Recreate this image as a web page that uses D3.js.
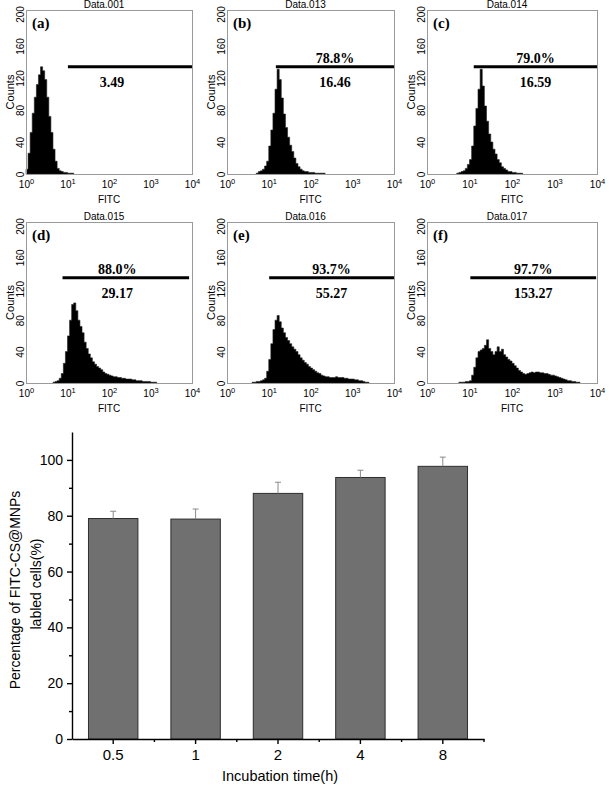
<!DOCTYPE html>
<html>
<head>
<meta charset="utf-8">
<script src="https://cdn.jsdelivr.net/npm/d3@7"></script>
<style>
  body { margin: 0; background: #fff; }
  svg { display: block; }
  .sans { font-family: "Liberation Sans", Arial, sans-serif; }
  .serif { font-family: "Liberation Serif", "Times New Roman", serif; }
</style>
</head>
<body>
<div id="chart"></div>
<script>
// Flow cytometry histograms (a)-(f)
//================================
var panelTags = ["(a)", "(b)", "(c)", "(d)", "(e)", "(f)"];
var sampleNames = ["Data.001", "Data.013", "Data.014", "Data.015", "Data.016", "Data.017"];
var gatePercent = ["", "78.8%", "79.0%", "88.0%", "93.7%", "97.7%"];
var gateMean = ["3.49", "16.46", "16.59", "29.17", "55.27", "153.27"];
var gateFrom = [1.01, 1.17, 1.10, 0.88, 1.01, 1.02];   // log10 FITC
var gateTo = [4.0, 4.0, 4.0, 3.93, 4.0, 3.98];
var gateCount = 134;
var meanAt = [2.07, null, null, 2.2, null, null];      // label centre, log10 FITC

// counts per 0.05-decade bin, first bin at histStart
var binStep = 0.05;
var histStart = [0.00, 0.70, 0.70, 0.65, 0.60, 0.75];
var countsA = [6, 26, 52, 76, 96, 112, 124, 134, 129, 118, 96, 72, 52, 31, 16, 7, 4, 3, 2, 2, 1, 1, 1];
var countsB = [1, 3, 4, 6, 10, 16, 35, 55, 76, 106, 131, 118, 95, 75, 58, 46, 36, 28, 20, 13, 9, 6, 4, 3, 3, 2, 2, 2, 1, 1, 1, 1, 1];
var countsC = [1, 2, 3, 4, 7, 12, 18, 35, 60, 82, 106, 131, 110, 85, 66, 50, 40, 31, 25, 18, 14, 9, 7, 5, 3, 3, 2, 2, 1, 1, 1];
var countsD = [1, 2, 3, 6, 12, 25, 40, 60, 80, 100, 102, 92, 80, 72, 64, 52, 44, 37, 32, 27, 24, 21, 19, 17, 14, 12, 11, 10, 9, 8, 8, 7, 7, 6, 6, 5, 5, 5, 4, 4, 3, 3, 3, 2, 2, 2, 2, 1, 1, 1];
var countsE = [1, 1, 2, 2, 3, 4, 6, 15, 30, 50, 68, 80, 86, 78, 70, 64, 58, 54, 50, 46, 43, 40, 36, 32, 29, 26, 24, 21, 19, 17, 15, 13, 12, 10, 9, 8, 8, 7, 7, 7, 8, 7, 7, 7, 6, 6, 5, 5, 5, 4, 4, 3, 3, 2, 1, 1];
var countsF = [1, 1, 1, 2, 2, 3, 10, 20, 32, 40, 42, 44, 48, 55, 44, 40, 36, 40, 46, 40, 43, 36, 33, 30, 28, 25, 22, 19, 16, 14, 12, 11, 12, 13, 14, 13, 14, 14, 13, 13, 12, 12, 11, 10, 10, 9, 8, 7, 6, 5, 4, 3, 3, 2, 2, 1, 1];
var allCounts = [countsA, countsB, countsC, countsD, countsE, countsF];

var fitcTicks = [1, 10, 100, 1000, 10000];
var countTicks = [0, 40, 80, 120, 160, 200];

// Bar chart
//================================
var times = ["0.5", "1", "2", "4", "8"];
var labeled = [79.0, 78.8, 88.0, 93.7, 97.7];
var labeledErr = [2.6, 3.6, 4.0, 2.6, 3.3];
var pctMajor = [0, 20, 40, 60, 80, 100];
var pctMinor = [10, 30, 50, 70, 90];

var svgWidth = 609;
var svgHeight = 785;

var svg = d3.select("#chart")
  .append("svg")
  .attr("width", svgWidth)
  .attr("height", svgHeight);

// panel frames
var colLeft = [26, 227, 427];
var colWidth = [166, 167, 170];
var rowTop = [10, 222];
var rowHeight = [164, 161];

allCounts.forEach(function(counts, i) {
  var col = i % 3, row = Math.floor(i / 3);
  var left = colLeft[col], w = colWidth[col];
  var top = rowTop[row], h = rowHeight[row];

  var x = d3.scaleLog().domain([1, 10000]).range([left, left + w]);
  var y = d3.scaleLinear().domain([0, 205]).range([top + h, top]);

  var g = svg.append("g");

  var pts = counts.map(function(c, k) {
    return { lg: histStart[i] + k * binStep, c: c };
  });
  pts.push({ lg: histStart[i] + counts.length * binStep, c: 0 });

  var area = d3.area()
    .curve(d3.curveStepAfter)
    .x(d => x(Math.pow(10, d.lg)))
    .y0(y(0))
    .y1(d => y(d.c));

  g.append("path")
    .datum(pts)
    .attr("d", area)
    .attr("fill", "#000")
    .attr("stroke", "#222")
    .attr("stroke-width", 0.6);

  g.append("rect")
    .attr("x", left + 0.5)
    .attr("y", top + 0.5)
    .attr("width", w)
    .attr("height", h)
    .attr("fill", "none")
    .attr("stroke", "#9a9a9a")
    .attr("stroke-width", 1);

  // x axis (log)
  var xAxis = g.append("g")
    .attr("transform", `translate(0, ${top + h})`)
    .call(d3.axisBottom(x).tickValues(fitcTicks).tickSize(0).tickPadding(0));
  xAxis.select(".domain").remove();
  xAxis.selectAll("text").each(function(d) {
    var t = d3.select(this).text("")
      .attr("class", "sans")
      .attr("font-size", 10)
      .attr("fill", "#000")
      .attr("dy", 0)
      .attr("y", 14);
    t.append("tspan").text("10");
    t.append("tspan").attr("font-size", 7.5).attr("dy", -4.5).text(Math.round(Math.log10(d)));
  });

  // y axis (counts), labels rotated
  var yAxis = g.append("g")
    .attr("transform", `translate(${left}, 0)`)
    .call(d3.axisLeft(y).tickValues(countTicks).tickSize(0));
  yAxis.select(".domain").remove();
  yAxis.selectAll("text")
    .attr("class", "sans")
    .attr("font-size", 10)
    .attr("fill", "#000")
    .attr("x", null)
    .attr("dy", null)
    .attr("text-anchor", "middle")
    .attr("transform", "translate(-2.5, 0) rotate(-90)");

  g.append("text")
    .attr("class", "sans")
    .attr("font-size", 11)
    .attr("text-anchor", "middle")
    .attr("transform", `translate(${left - 12}, ${top + h / 2}) rotate(-90)`)
    .text("Counts");

  g.append("text")
    .attr("class", "sans")
    .attr("font-size", 10)
    .attr("text-anchor", "middle")
    .attr("x", left + w / 2)
    .attr("y", top + h + 29)
    .text("FITC");

  g.append("text")
    .attr("class", "sans")
    .attr("font-size", 10)
    .attr("text-anchor", "middle")
    .attr("x", left + w / 2 - 5)
    .attr("y", top - 2)
    .text(sampleNames[i]);

  g.append("text")
    .attr("class", "serif")
    .attr("font-size", 15)
    .attr("font-weight", "bold")
    .attr("x", left + 6)
    .attr("y", top + 18)
    .text(panelTags[i]);

  // gate marker
  var gx0 = x(Math.pow(10, gateFrom[i]));
  var gx1 = x(Math.pow(10, gateTo[i]));
  var gy = y(gateCount);
  g.append("line")
    .attr("x1", gx0).attr("x2", gx1)
    .attr("y1", gy).attr("y2", gy)
    .attr("stroke", "#000")
    .attr("stroke-width", 3);

  var cx = meanAt[i] != null ? x(Math.pow(10, meanAt[i])) : (gx0 + gx1) / 2;
  g.append("text")
    .attr("class", "serif")
    .attr("font-size", 14)
    .attr("font-weight", "bold")
    .attr("text-anchor", "middle")
    .attr("x", cx)
    .attr("y", gy - 4)
    .text(gatePercent[i]);
  g.append("text")
    .attr("class", "serif")
    .attr("font-size", 14)
    .attr("font-weight", "bold")
    .attr("text-anchor", "middle")
    .attr("x", cx)
    .attr("y", gy + 20)
    .text(gateMean[i]);
});

// Bar chart of labelled cells
//================================
var xBand = d3.scaleBand()
  .domain(times)
  .range([72, 484])
  .paddingInner(0.4)
  .paddingOuter(0.2);

var yPct = d3.scaleLinear()
  .domain([0, 110])
  .range([739, 432]);

var barGroup = svg.append("g");

barGroup.selectAll(".bar")
  .data(labeled)
  .enter()
  .append("rect")
  .attr("class", "bar")
  .attr("x", (d, i) => xBand(times[i]))
  .attr("y", d => yPct(d))
  .attr("width", xBand.bandwidth())
  .attr("height", d => yPct(0) - yPct(d))
  .attr("fill", "#707070")
  .attr("stroke", "#2e2e2e")
  .attr("stroke-width", 1);

var errGroup = barGroup.selectAll(".err")
  .data(labeled)
  .enter()
  .append("g")
  .attr("class", "err")
  .attr("stroke", "#8a8a8a")
  .attr("stroke-width", 1);

errGroup.append("line")
  .attr("x1", (d, i) => xBand(times[i]) + xBand.bandwidth() / 2)
  .attr("x2", (d, i) => xBand(times[i]) + xBand.bandwidth() / 2)
  .attr("y1", d => yPct(d))
  .attr("y2", (d, i) => yPct(d + labeledErr[i]));

errGroup.append("line")
  .attr("x1", (d, i) => xBand(times[i]) + xBand.bandwidth() / 2 - 3)
  .attr("x2", (d, i) => xBand(times[i]) + xBand.bandwidth() / 2 + 3)
  .attr("y1", (d, i) => yPct(d + labeledErr[i]))
  .attr("y2", (d, i) => yPct(d + labeledErr[i]));

// axes
var bottomAxis = barGroup.append("g")
  .attr("transform", `translate(0, ${yPct(0)})`)
  .call(d3.axisBottom(xBand).tickSize(5).tickSizeOuter(0).tickPadding(5));

bottomAxis.selectAll(".tick")
  .append("line")
  .attr("x1", xBand.step() / 2)
  .attr("x2", xBand.step() / 2)
  .attr("y2", 3)
  .attr("stroke", "#000");

var leftAxis = barGroup.append("g")
  .attr("transform", `translate(${xBand.range()[0]}, 0)`)
  .call(d3.axisLeft(yPct).tickValues(pctMajor).tickSize(5).tickSizeOuter(0).tickPadding(4));

barGroup.append("g")
  .attr("transform", `translate(${xBand.range()[0]}, 0)`)
  .call(d3.axisLeft(yPct).tickValues(pctMinor).tickSize(3).tickFormat(""))
  .select(".domain").remove();

barGroup.selectAll(".domain, .tick line")
  .attr("stroke", "#000")
  .attr("stroke-width", 1.4);

bottomAxis.selectAll("text")
  .attr("class", "sans")
  .attr("font-size", 15)
  .attr("fill", "#000");

leftAxis.selectAll("text")
  .attr("class", "sans")
  .attr("font-size", 14)
  .attr("fill", "#000");

// axis labels
barGroup.append("text")
  .attr("class", "sans")
  .attr("font-size", 14.5)
  .attr("text-anchor", "middle")
  .attr("x", 280)
  .attr("y", 781)
  .text("Incubation time(h)");

barGroup.append("text")
  .attr("class", "sans")
  .attr("font-size", 14)
  .attr("text-anchor", "middle")
  .attr("transform", "translate(20, 590) rotate(-90)")
  .text("Percentage of FITC-CS@MNPs");

barGroup.append("text")
  .attr("class", "sans")
  .attr("font-size", 14)
  .attr("text-anchor", "middle")
  .attr("transform", "translate(41, 584) rotate(-90)")
  .text("labled cells(%)");
</script>
</body>
</html>
